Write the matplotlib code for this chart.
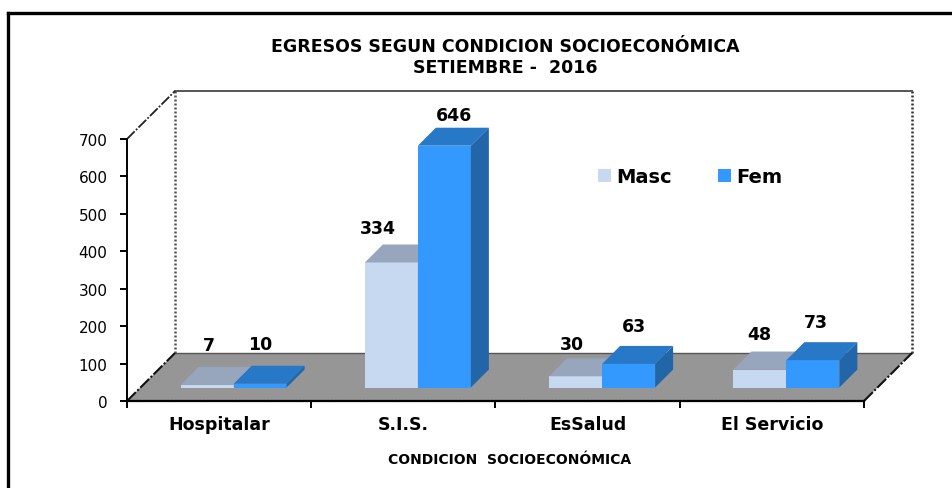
import matplotlib.pyplot as plt
from matplotlib.lines import Line2D
from matplotlib.patches import Patch, Polygon

categories = ["Hospitalar", "S.I.S.", "EsSalud", "El Servicio"]
masc = [7, 334, 30, 48]
fem = [10, 646, 63, 73]
y_ticks = [0, 100, 200, 300, 400, 500, 600, 700]

# label offsets from the front top edge of each bar, in pixels
masc_offsets = [(2, 40), (-13, 34), (-4, 32), (-1, 36)]
fem_offsets = [(0, 40), (10, 31), (5, 38), (3, 38)]

W, H = 953, 489
LEFT, RIGHT, BOTTOM, TOP = 127, 864, 402, 140
FLOOR_DEPTH = 48
BAR_SHIFT_X = 14.5
BAR_SHIFT_Y = 13.5
BAR_DEPTH = 18
BAR_PX = 53

plt.rcParams["font.family"] = ["DejaVu Sans"]
plt.rcParams["font.weight"] = "bold"

fig = plt.figure(figsize=(W / 100, H / 100), dpi=100)
ax = fig.add_axes([LEFT / W, 1 - BOTTOM / H, (RIGHT - LEFT) / W, (BOTTOM - TOP) / H])
ax.set_xlim(0, 4)
ax.set_ylim(0, 700)

px_x = (RIGHT - LEFT) / 4
px_y = (BOTTOM - TOP) / 700


def depth(xv, yv, d):
    return xv + d / px_x, yv + d / px_y


def draw_bar(x0, value, front, top, side):
    w = BAR_PX / px_x
    x_a = x0 + BAR_SHIFT_X / px_x
    y_a = BAR_SHIFT_Y / px_y
    faces = [
        ([(x_a, y_a), (x_a + w, y_a), (x_a + w, y_a + value), (x_a, y_a + value)], front),
        (
            [
                (x_a, y_a + value),
                (x_a + w, y_a + value),
                depth(x_a + w, y_a + value, BAR_DEPTH),
                depth(x_a, y_a + value, BAR_DEPTH),
            ],
            top,
        ),
        (
            [
                (x_a + w, y_a),
                depth(x_a + w, y_a, BAR_DEPTH),
                depth(x_a + w, y_a + value, BAR_DEPTH),
                (x_a + w, y_a + value),
            ],
            side,
        ),
    ]
    for pts, color in faces:
        ax.add_patch(Polygon(pts, closed=True, fc=color, ec="none", clip_on=False, zorder=3))
    return x_a + w / 2, y_a + value


# floor
ax.add_patch(
    Polygon(
        [(0, 0), (4, 0), depth(4, 0, FLOOR_DEPTH), depth(0, 0, FLOOR_DEPTH)],
        closed=True,
        fc="#969696",
        ec="none",
        clip_on=False,
        zorder=1,
    )
)

# walls
wall = dict(clip_on=False, zorder=2)
dots = (0, (0.8, 0.8))
dashes = (0, (6, 1, 1, 1))
xb0, yb0 = depth(0, 0, FLOOR_DEPTH)
xb1, yb1 = depth(4, 0, FLOOR_DEPTH)
xt0, yt0 = depth(0, 700, FLOOR_DEPTH)
xt1, yt1 = depth(4, 700, FLOOR_DEPTH)
ax.plot([xb0, xt0], [yb0, yt0], color="#555555", lw=1.8, ls=dots, **wall)
ax.plot([xb1, xt1], [yb1, yt1], color="#333333", lw=1.8, ls=dots, **wall)
ax.plot([xt0, xt1], [yt0, yt1], color="#555555", lw=1.4, **wall)
ax.plot([xb0, xb1], [yb0, yb1], color="#555555", lw=1.0, **wall)
ax.plot([0, xt0], [700, yt0], color="#222222", lw=1.3, ls=dashes, **wall)
ax.plot([0, xb0], [0, yb0], color="#111111", lw=1.5, ls=dashes, **wall)
ax.plot([4, xb1], [0, yb1], color="#111111", lw=1.5, ls=dashes, **wall)

# bars
for i in range(len(categories)):
    mid = i + 0.5
    w = BAR_PX / px_x
    mx, my = draw_bar(mid - w, masc[i], "#C6D9F1", "#98A6BD", "#8FA3C0")
    fx, fy = draw_bar(mid, fem[i], "#3399FF", "#2878C8", "#2366A8")
    for xv, yv, val, off in [(mx, my, masc[i], masc_offsets[i]), (fx, fy, fem[i], fem_offsets[i])]:
        ax.annotate(
            str(val),
            (xv, yv),
            xytext=off,
            textcoords="offset pixels",
            ha="center",
            va="center",
            fontsize=12.5,
            annotation_clip=False,
            zorder=5,
        )

# axes
for name in ["top", "right"]:
    ax.spines[name].set_visible(False)
ax.patch.set_alpha(0)
ax.spines["left"].set_linewidth(1.4)
ax.spines["bottom"].set_linewidth(1.6)
ax.spines["bottom"].set_linestyle(dots)
ax.set_yticks(y_ticks)
ax.tick_params(axis="y", length=5, width=1.4, pad=9, labelsize=11)
ax.set_xticks(range(5))
ax.set_xticklabels([])
ax.tick_params(axis="x", which="major", length=5, width=1.4)
ax.set_xticks([i + 0.5 for i in range(4)], minor=True)
ax.set_xticklabels(categories, minor=True, fontsize=12.5, fontweight="bold")
ax.tick_params(axis="x", which="minor", length=0, pad=10)
for lab in ax.get_yticklabels():
    lab.set_fontweight("normal")

# titles
fig.text(505 / W, 1 - 47 / H, "EGRESOS SEGUN CONDICION SOCIOECONÓMICA", ha="center", va="center", fontsize=12.5)
fig.text(505 / W, 1 - 68 / H, "SETIEMBRE -  2016", ha="center", va="center", fontsize=12.5)
fig.text(510 / W, 1 - 460 / H, "CONDICION  SOCIOECONÓMICA", ha="center", va="center", fontsize=10)

# legend
handles = [Patch(fc="#C6D9F1", ec="none"), Patch(fc="#3399FF", ec="none")]
fig.legend(
    handles,
    ["Masc", "Fem"],
    ncol=2,
    frameon=False,
    loc="center left",
    bbox_to_anchor=(598 / W, 1 - 178 / H),
    fontsize=14,
    handlelength=0.68,
    handleheight=0.68,
    handletextpad=0.27,
    columnspacing=2.37,
    borderpad=0,
    borderaxespad=0,
)

# outer frame, only top and left are visible in the picture
fig.add_artist(Line2D([8 / W, 1], [1 - 13.5 / H, 1 - 13.5 / H], color="black", lw=2.4))
fig.add_artist(Line2D([8 / W, 8 / W], [0, 1 - 13.5 / H], color="black", lw=2.4))

fig.savefig("out.png", dpi=100)
